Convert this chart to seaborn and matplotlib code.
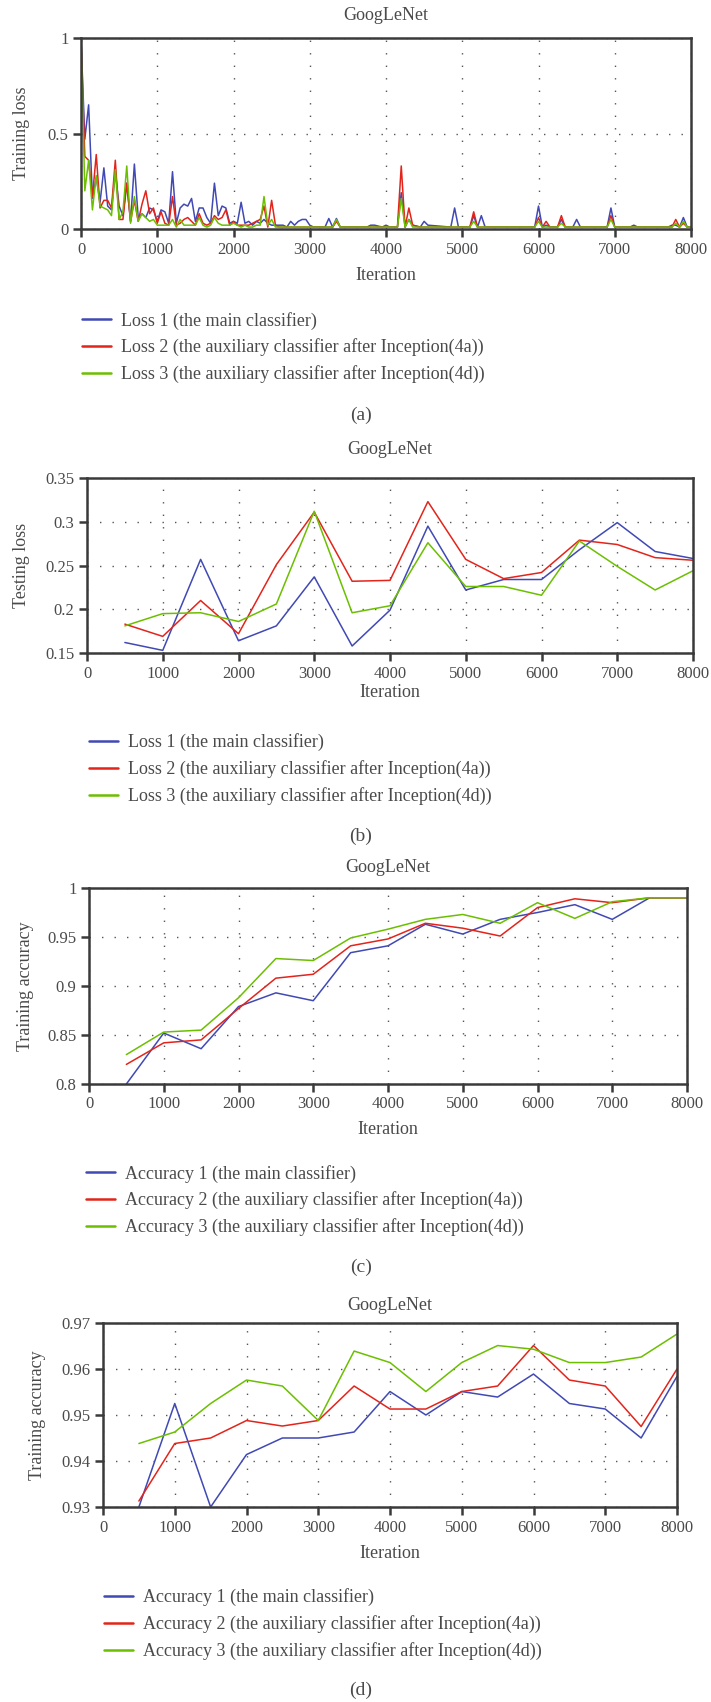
import numpy as np
import pandas as pd
import seaborn as sns
import matplotlib.pyplot as plt
from matplotlib.ticker import FuncFormatter

# ---- data -------------------------------------------------------------
# (a) training loss, dense at the start then only where something happens
train_iter = list(range(0, 2650, 50)) + [
    2650, 2700, 2750, 2800, 2850, 2900, 2950, 3000, 3050, 3200, 3250, 3300, 3350, 3400,
    3750, 3800, 3850, 3950, 4000, 4050, 4150, 4200, 4250, 4300, 4350, 4450, 4500, 4550,
    4850, 4900, 4950, 5100, 5150, 5200, 5250, 5300, 5950, 6000, 6050, 6100, 6150, 6250,
    6300, 6350, 6450, 6500, 6550, 6900, 6950, 7000, 7200, 7250, 7300, 7700, 7750, 7800,
    7850, 7900, 7950, 8000]

train_loss1 = [
    1.0, 0.47, 0.65, 0.16, 0.27, 0.14, 0.32, 0.12, 0.10, 0.30, 0.12, 0.07, 0.24, 0.04,
    0.34, 0.06, 0.08, 0.06, 0.11, 0.10, 0.04, 0.10, 0.09, 0.03, 0.30, 0.03, 0.11, 0.13,
    0.12, 0.16, 0.04, 0.11, 0.11, 0.06, 0.03, 0.24, 0.07, 0.12, 0.11, 0.03, 0.04, 0.03,
    0.14, 0.03, 0.04, 0.02, 0.04, 0.03, 0.05, 0.03, 0.02, 0.02, 0.02,
    0.02, 0.01, 0.04, 0.02, 0.04, 0.05, 0.05, 0.02, 0.01, 0.01, 0.055, 0.01, 0.055, 0.01,
    0.01, 0.02, 0.02, 0.01, 0.02, 0.01, 0.01, 0.19, 0.01, 0.05, 0.02, 0.01, 0.04, 0.02,
    0.01, 0.11, 0.01, 0.01, 0.07, 0.01, 0.07, 0.01, 0.01, 0.12, 0.01, 0.02, 0.01, 0.01,
    0.05, 0.01, 0.01, 0.05, 0.01, 0.01, 0.11, 0.01, 0.01, 0.02, 0.01, 0.01, 0.02, 0.02,
    0.01, 0.06, 0.01, 0.01]
train_loss2 = [
    1.0, 0.38, 0.36, 0.17, 0.39, 0.11, 0.15, 0.15, 0.11, 0.36, 0.05, 0.05, 0.24, 0.04,
    0.15, 0.04, 0.13, 0.20, 0.08, 0.11, 0.03, 0.09, 0.03, 0.02, 0.17, 0.02, 0.03, 0.05,
    0.06, 0.04, 0.02, 0.08, 0.03, 0.02, 0.03, 0.07, 0.05, 0.06, 0.10, 0.02, 0.04, 0.02,
    0.02, 0.02, 0.02, 0.03, 0.04, 0.05, 0.12, 0.01, 0.15, 0.02, 0.01,
    0.01, 0.01, 0.01, 0.01, 0.01, 0.01, 0.01, 0.01, 0.01, 0.01, 0.01, 0.01, 0.04, 0.01,
    0.01, 0.01, 0.01, 0.01, 0.01, 0.01, 0.01, 0.33, 0.01, 0.11, 0.02, 0.01, 0.01, 0.01,
    0.01, 0.01, 0.01, 0.01, 0.09, 0.01, 0.01, 0.01, 0.01, 0.06, 0.01, 0.04, 0.01, 0.01,
    0.07, 0.01, 0.01, 0.01, 0.01, 0.01, 0.07, 0.01, 0.01, 0.01, 0.01, 0.01, 0.01, 0.05,
    0.01, 0.03, 0.01, 0.01]
train_loss3 = [
    1.0, 0.20, 0.36, 0.10, 0.28, 0.12, 0.11, 0.10, 0.07, 0.31, 0.05, 0.09, 0.33, 0.03,
    0.17, 0.04, 0.08, 0.06, 0.04, 0.05, 0.02, 0.02, 0.02, 0.02, 0.05, 0.01, 0.05, 0.02,
    0.02, 0.02, 0.02, 0.06, 0.02, 0.01, 0.02, 0.06, 0.03, 0.02, 0.02, 0.02, 0.03, 0.02,
    0.01, 0.02, 0.01, 0.01, 0.02, 0.02, 0.17, 0.02, 0.05, 0.01, 0.01,
    0.01, 0.01, 0.01, 0.01, 0.01, 0.01, 0.01, 0.01, 0.01, 0.01, 0.01, 0.01, 0.05, 0.01,
    0.01, 0.01, 0.01, 0.01, 0.01, 0.01, 0.01, 0.16, 0.01, 0.05, 0.01, 0.01, 0.01, 0.01,
    0.01, 0.01, 0.01, 0.01, 0.04, 0.01, 0.01, 0.01, 0.01, 0.04, 0.01, 0.01, 0.01, 0.01,
    0.03, 0.01, 0.01, 0.01, 0.01, 0.01, 0.05, 0.01, 0.01, 0.01, 0.01, 0.01, 0.01, 0.03,
    0.01, 0.04, 0.01, 0.01]

# (b), (c), (d) are sampled every 500 iterations
test_iter = [500, 1000, 1500, 2000, 2500, 3000, 3500, 4000,
             4500, 5000, 5500, 6000, 6500, 7000, 7500, 8000]

test_loss1 = [0.162, 0.153, 0.257, 0.164, 0.181, 0.237, 0.158, 0.199,
              0.295, 0.222, 0.234, 0.234, 0.268, 0.299, 0.266, 0.258]
test_loss2 = [0.183, 0.169, 0.210, 0.172, 0.251, 0.311, 0.232, 0.233,
              0.323, 0.257, 0.235, 0.242, 0.279, 0.274, 0.259, 0.256]
test_loss3 = [0.181, 0.195, 0.196, 0.186, 0.206, 0.312, 0.196, 0.204,
              0.276, 0.226, 0.226, 0.216, 0.278, 0.249, 0.222, 0.244]

train_acc1 = [0.800, 0.852, 0.836, 0.879, 0.893, 0.885, 0.934, 0.941,
              0.963, 0.953, 0.968, 0.975, 0.983, 0.968, 0.990, 0.990]
train_acc2 = [0.820, 0.842, 0.845, 0.877, 0.908, 0.912, 0.941, 0.948,
              0.964, 0.959, 0.951, 0.980, 0.989, 0.985, 0.990, 0.990]
train_acc3 = [0.830, 0.853, 0.855, 0.888, 0.928, 0.926, 0.949, 0.958,
              0.968, 0.973, 0.964, 0.985, 0.969, 0.986, 0.990, 0.990]

acc1_d = [0.9300, 0.9525, 0.9300, 0.9414, 0.9450, 0.9450, 0.9463, 0.9551,
          0.9500, 0.9551, 0.9539, 0.9589, 0.9525, 0.9513, 0.9450, 0.9584]
acc2_d = [0.9313, 0.9438, 0.9450, 0.9488, 0.9476, 0.9488, 0.9563, 0.9513,
          0.9513, 0.9551, 0.9563, 0.9651, 0.9576, 0.9563, 0.9475, 0.9600]
acc3_d = [0.9438, 0.9463, 0.9525, 0.9576, 0.9563, 0.9488, 0.9639, 0.9614,
          0.9551, 0.9614, 0.9651, 0.9643, 0.9614, 0.9614, 0.9626, 0.9676]

loss_names = ['Loss 1 (the main classifier)',
              'Loss 2 (the auxiliary classifier after Inception(4a))',
              'Loss 3 (the auxiliary classifier after Inception(4d))']
acc_names = ['Accuracy 1 (the main classifier)',
             'Accuracy 2 (the auxiliary classifier after Inception(4a))',
             'Accuracy 3 (the auxiliary classifier after Inception(4d))']
x_ticks = [0, 1000, 2000, 3000, 4000, 5000, 6000, 7000, 8000]

# ---- style ------------------------------------------------------------
sns.set_style('ticks')
plt.rcParams['font.family'] = ['Liberation Serif', 'DejaVu Serif']
TXT = '#4a4a4a'
SPINE = '#3a3a3a'
colors = ['#4049b4', '#e3241b', '#6cbf00']

W, H = 711, 1702
fig = plt.figure(figsize=(W / 100, H / 100), dpi=100)


def panel(box, x, ys, names, ylim, yticks, ylabel, ylab_x, title_y, xlab_y,
          leg_x, leg_y, cap, cap_y):
    left, right, top, bottom = box
    ax = fig.add_axes([left / W, 1 - bottom / H, (right - left) / W, (bottom - top) / H])
    df = pd.concat([pd.DataFrame({'Iteration': x, 'value': y, 'series': n})
                    for y, n in zip(ys, names)], ignore_index=True)
    sns.lineplot(data=df, x='Iteration', y='value', hue='series',
                 palette=dict(zip(names, colors)), sort=False, estimator=None,
                 linewidth=1.1, ax=ax)
    ax.set_xlim(0, 8000)
    ax.set_ylim(*ylim)
    ax.set_xticks(x_ticks)
    ax.set_yticks(yticks)
    ax.yaxis.set_major_formatter(FuncFormatter(lambda v, p: f'{v:g}'))
    ax.tick_params(axis='both', direction='out', length=6, width=1.8, color=SPINE,
                   labelsize=12, labelcolor=TXT, pad=3)
    for s in ax.spines.values():
        s.set_linewidth(1.8)
        s.set_color(SPINE)
        s.set_visible(True)
    ax.grid(True, linestyle=(0, (1, 8)), linewidth=1.0, color='#555555')
    ax.set_axisbelow(True)
    ax.set_xlabel('')
    ax.set_ylabel(ylabel, fontsize=13, color=TXT)
    ax.yaxis.label.set_va('center')
    ax.yaxis.set_label_coords((ylab_x - left) / (right - left), 0.5)
    cx = (left + right) / 2 / W
    fig.text(cx, 1 - title_y / H, 'GoogLeNet', ha='center', va='center',
             fontsize=13, color=TXT)
    fig.text(cx, 1 - xlab_y / H, 'Iteration', ha='center', va='center',
             fontsize=13, color=TXT)
    handles, labels = ax.get_legend_handles_labels()
    leg = ax.legend(handles, labels, loc='center left',
                    bbox_to_anchor=(leg_x / W, 1 - leg_y / H),
                    bbox_transform=fig.transFigure, frameon=False, fontsize=13,
                    handlelength=1.6, handletextpad=0.55, labelspacing=0.5,
                    borderpad=0, borderaxespad=0)
    for t in leg.get_texts():
        t.set_color(TXT)
    for l in leg.get_lines():
        l.set_linewidth(1.8)
    fig.text(361 / W, 1 - cap_y / H, cap, ha='center', va='center',
             fontsize=14, color=TXT)
    return ax


panel((81, 691, 38, 229), train_iter, [train_loss1, train_loss2, train_loss3], loss_names,
      (0, 1), [0, 0.5, 1], 'Training loss', 22, 15, 275, 82, 347.5, '(a)', 415)
panel((87, 693, 478, 653), test_iter, [test_loss1, test_loss2, test_loss3], loss_names,
      (0.15, 0.35), [0.15, 0.2, 0.25, 0.3, 0.35], 'Testing loss', 22, 450, 693, 89, 769,
      '(b)', 836)
panel((89, 687, 888, 1084), test_iter, [train_acc1, train_acc2, train_acc3], acc_names,
      (0.8, 1.0), [0.8, 0.85, 0.9, 0.95, 1.0], 'Training accuracy', 26, 868, 1130, 86,
      1200.5, '(c)', 1267)
panel((103, 677, 1323, 1507), test_iter, [acc1_d, acc2_d, acc3_d], acc_names,
      (0.93, 0.97), [0.93, 0.94, 0.95, 0.96, 0.97], 'Training accuracy', 37, 1305, 1553,
      104, 1624, '(d)', 1690)

fig.savefig('out.png', dpi=100, facecolor='white')
